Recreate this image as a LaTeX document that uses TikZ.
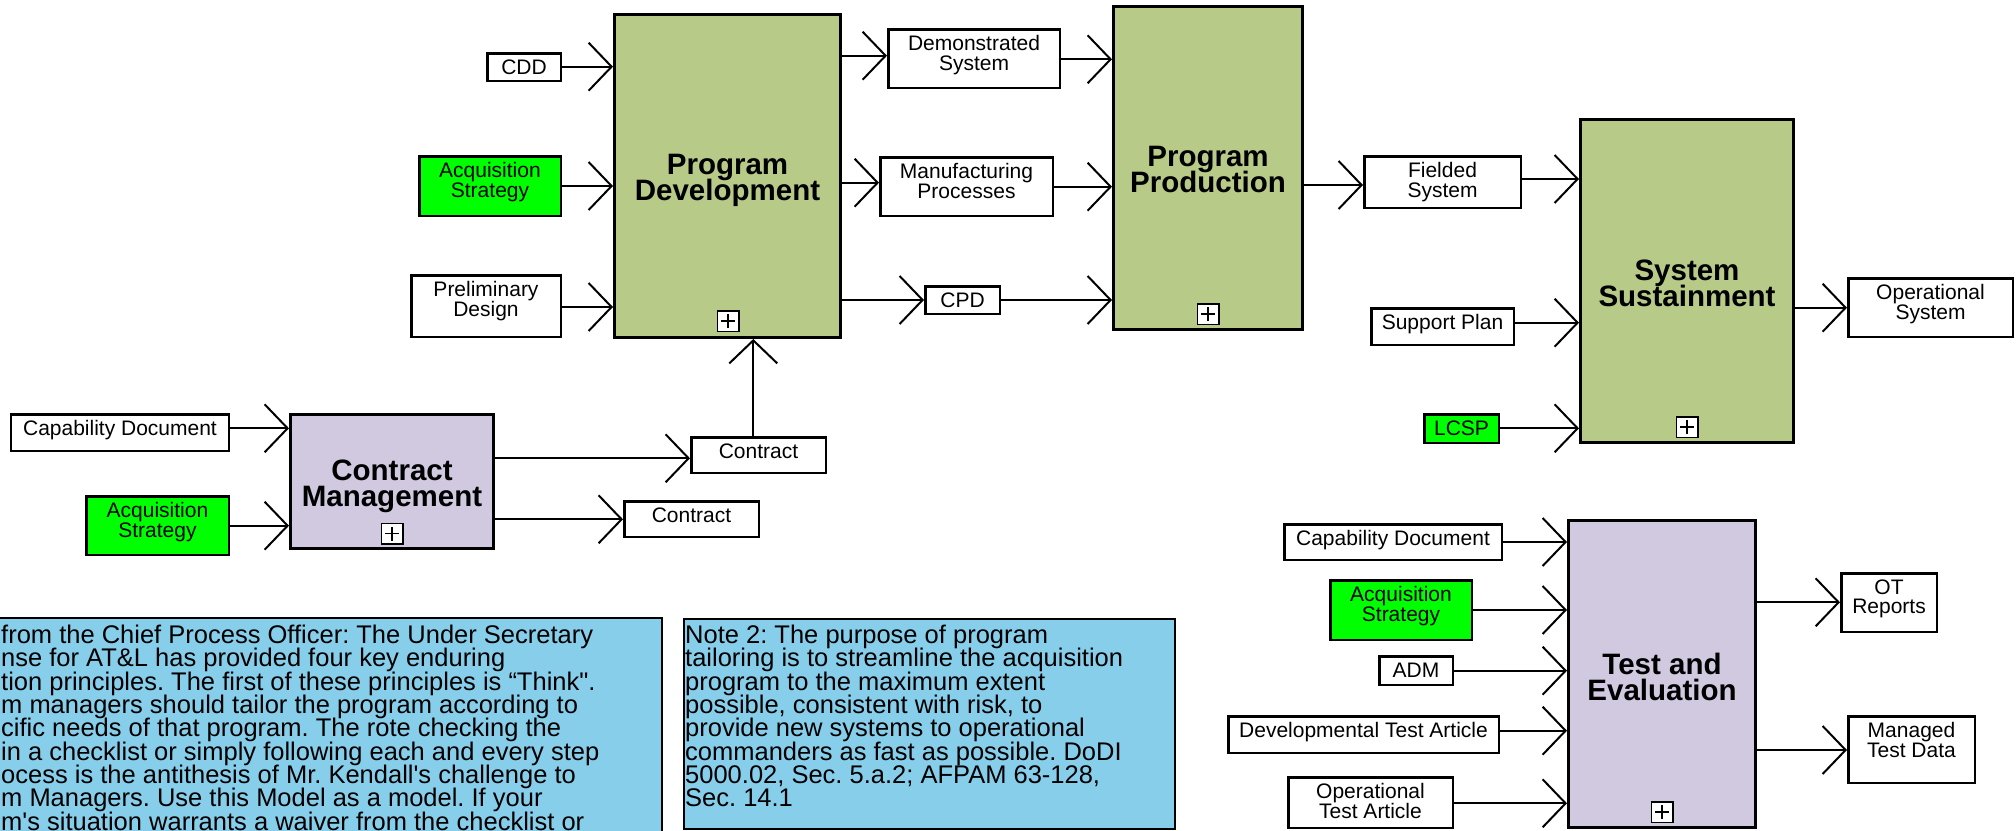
\documentclass[tikz,border=0pt]{standalone}
\usepackage{fontspec}
\setmainfont{Liberation Sans}
\usetikzlibrary{arrows.meta}
\frenchspacing
\definecolor{pdgreen}{RGB}{183,202,136}
\definecolor{lav}{RGB}{209,201,223}
\definecolor{brgreen}{RGB}{0,255,0}
\definecolor{notebl}{RGB}{135,206,235}
\newcommand\myfs{\fontsize{21bp}{19.5bp}\selectfont\lineskiplimit=-100pt\relax}
\newcommand\myfb{\fontsize{29.5bp}{26bp}\selectfont\bfseries\lineskiplimit=-100pt\relax}
\newcommand\myfn{\fontsize{25.5bp}{23.3bp}\selectfont\lineskiplimit=-100pt\relax}
\tikzset{
  mainbox/.style={draw, line width=3bp, inner sep=0pt},
  mtxt/.style={anchor=north, inner sep=0pt, align=center, font=\myfb},
  sbox/.style={draw, line width=2.5bp, fill=white, inner sep=0pt},
  gbox/.style={sbox, fill=brgreen},
  tl/.style={anchor=north, yshift=-7.5bp, inner sep=0pt, align=center, font=\myfs},
  arr/.style={line width=2bp, -{Straight Barb[length=23bp, width=48bp]}},
  plusbox/.style={draw, fill=white, line width=1.5bp, minimum width=21.5bp, minimum height=20.5bp, inner sep=0pt,
    path picture={
      \draw[line width=1.8bp] ([xshift=-7bp]path picture bounding box.center) -- ([xshift=7bp]path picture bounding box.center);
      \draw[line width=1.8bp] ([yshift=-7bp]path picture bounding box.center) -- ([yshift=7bp]path picture bounding box.center);}},
  note/.style={draw, line width=2bp, fill=notebl, inner sep=0pt, anchor=north west},
  ntxt/.style={anchor=north west, inner sep=0pt, align=left, font=\myfn},
}
\begin{document}
\begin{tikzpicture}[x=1bp, y=-1bp]
\useasboundingbox (0,0) rectangle (2016,831);
\clip (0,0) rectangle (2016,831);

% main activity boxes
\node[mainbox, fill=pdgreen, minimum width=226bp, minimum height=323bp] (pd) at (727.5,176) {};
\node[mainbox, fill=pdgreen, minimum width=189bp, minimum height=323bp] (pp) at (1208,168) {};
\node[mainbox, fill=pdgreen, minimum width=213bp, minimum height=323bp] (ss) at (1687,281) {};
\node[mainbox, fill=lav, minimum width=203bp, minimum height=134bp] (cm) at (392,481.5) {};
\node[mainbox, fill=lav, minimum width=187bp, minimum height=307bp] (te) at (1662,674) {};
\node[mtxt] (pdt) at ([yshift=21.5bp]pd.center) {Program\\Development};
\node[mtxt] (ppt) at ([yshift=21.5bp]pp.center) {Program\\Production};
\node[mtxt] (sst) at ([yshift=21.5bp]ss.center) {System\\Sustainment};
\node[mtxt] (cmt) at ([yshift=21.5bp]cm.center) {Contract\\Management};
\node[mtxt] (tet) at ([yshift=21.5bp]te.center) {Test and\\Evaluation};

\node[plusbox] (pdplus) at (728,321) {};
\node[plusbox] (ppplus) at (1208,314) {};
\node[plusbox] (ssplus) at (1687,427) {};
\node[plusbox] (cmplus) at (392,533.5) {};
\node[plusbox] (teplus) at (1662,812) {};

% small boxes
\node[sbox, minimum width=73.5bp, minimum height=27.5bp, label={[tl]north:CDD}] (cdd) at (524,67) {};
\node[gbox, minimum width=141.5bp, minimum height=59.5bp, label={[tl]north:Acquisition\\Strategy}] (acq1) at (490,186) {};
\node[sbox, minimum width=149.5bp, minimum height=61.5bp, label={[tl]north:Preliminary\\Design}] (prelim) at (486,306) {};
\node[sbox, minimum width=171.5bp, minimum height=58.5bp, label={[tl]north:Demonstrated\\System}] (ds) at (974,58.5) {};
\node[sbox, minimum width=172.5bp, minimum height=58.5bp, label={[tl]north:Manufacturing\\Processes}] (mp) at (966.5,186.5) {};
\node[sbox, minimum width=74.5bp, minimum height=27.5bp, label={[tl]north:CPD}] (cpd) at (962.5,300) {};
\node[sbox, minimum width=156.5bp, minimum height=51.5bp, label={[tl]north:Fielded\\System}] (fs) at (1442.5,182) {};
\node[sbox, minimum width=142.5bp, minimum height=36.5bp, label={[tl]north:Support Plan}] (sp) at (1442.5,326.5) {};
\node[gbox, minimum width=74.5bp, minimum height=28.5bp, label={[tl]north:LCSP}] (lcsp) at (1461.5,428.5) {};
\node[sbox, minimum width=164.5bp, minimum height=58.5bp, label={[tl]north:Operational\\System}] (os) at (1930.5,307.5) {};
\node[sbox, minimum width=217.5bp, minimum height=36.5bp, label={[tl]north:Capability Document}] (capL) at (120,432.5) {};
\node[gbox, minimum width=142.5bp, minimum height=58.5bp, label={[tl]north:Acquisition\\Strategy}] (acqL) at (157.5,525.5) {};
\node[sbox, minimum width=134.5bp, minimum height=35.5bp, label={[tl]north:Contract}] (conU) at (758.5,455) {};
\node[sbox, minimum width=134.5bp, minimum height=35.5bp, label={[tl]north:Contract}] (conL) at (691.5,519) {};
\node[sbox, minimum width=217.5bp, minimum height=35.5bp, label={[tl]north:Capability Document}] (capR) at (1393,542) {};
\node[gbox, minimum width=141.5bp, minimum height=59.5bp, label={[tl]north:Acquisition\\Strategy}] (acqR) at (1401,610) {};
\node[sbox, minimum width=73.5bp, minimum height=28.5bp, label={[tl]north:ADM}] (adm) at (1416,670.5) {};
\node[sbox, minimum width=270.5bp, minimum height=36.5bp, label={[tl]north:Developmental Test Article}] (dta) at (1363.5,734.5) {};
\node[sbox, minimum width=164.5bp, minimum height=50.5bp, label={[tl]north:Operational\\Test Article}] (ota) at (1370.5,802.5) {};
\node[sbox, minimum width=95.5bp, minimum height=58.5bp, label={[tl]north:OT\\Reports}] (otr) at (1889,602.5) {};
\node[sbox, minimum width=126.5bp, minimum height=66.5bp, label={[tl]north:Managed\\Test Data}] (mtd) at (1911.5,749.5) {};

% connectors
\draw[arr] (cdd.east |- 0,66.7) -- (pd.west |- 0,66.7);
\draw[arr] (acq1.east |- 0,186) -- (pd.west |- 0,186);
\draw[arr] (prelim.east |- 0,307) -- (pd.west |- 0,307);
\draw[arr] (pd.east |- 0,55.7) -- (ds.west |- 0,55.7);
\draw[arr] (pd.east |- 0,182.7) -- (mp.west |- 0,182.7);
\draw[arr] (pd.east |- 0,300) -- (cpd.west |- 0,300);
\draw[arr] (ds.east |- 0,59.3) -- (pp.west |- 0,59.3);
\draw[arr] (mp.east |- 0,186.7) -- (pp.west |- 0,186.7);
\draw[arr] (cpd.east |- 0,300) -- (pp.west |- 0,300);
\draw[arr] (pp.east |- 0,185) -- (fs.west |- 0,185);
\draw[arr] (fs.east |- 0,179) -- (ss.west |- 0,179);
\draw[arr] (sp.east |- 0,322.7) -- (ss.west |- 0,322.7);
\draw[arr] (lcsp.east |- 0,428.3) -- (ss.west |- 0,428.3);
\draw[arr] (ss.east |- 0,307.7) -- (os.west |- 0,307.7);
\draw[arr] (capL.east |- 0,428.3) -- (cm.west |- 0,428.3);
\draw[arr] (acqL.east |- 0,525.7) -- (cm.west |- 0,525.7);
\draw[arr] (cm.east |- 0,458.3) -- (conU.west |- 0,458.3);
\draw[arr] (cm.east |- 0,519.3) -- (conL.west |- 0,519.3);
\draw[arr] (conU.north -| 753.3,0) -- (pd.south -| 753.3,0);
\draw[arr] (capR.east |- 0,542) -- (te.west |- 0,542);
\draw[arr] (acqR.east |- 0,610) -- (te.west |- 0,610);
\draw[arr] (adm.east |- 0,670.7) -- (te.west |- 0,670.7);
\draw[arr] (dta.east |- 0,730.7) -- (te.west |- 0,730.7);
\draw[arr] (ota.east |- 0,803.3) -- (te.west |- 0,803.3);
\draw[arr] (te.east |- 0,602.3) -- (otr.west |- 0,602.3);
\draw[arr] (te.east |- 0,750) -- (mtd.west |- 0,750);

% notes
\node[note, minimum width=671bp, minimum height=240bp] (n1) at (-10,617) {};
\node[ntxt] (n1t) at (1,625) {from the Chief Process Officer: The Under Secretary\\
nse for AT\&L has provided four key enduring\\
tion principles. The first of these principles is “Think\textquotedbl.\\
m managers should tailor the program according to\\
cific needs of that program. The rote checking the\\
in a checklist or simply following each and every step\\
ocess is the antithesis of Mr. Kendall\textquotesingle s challenge to\\
m Managers. Use this Model as a model. If your\\
m\textquotesingle s situation warrants a waiver from the checklist or};
\node[note, minimum width=491bp, minimum height=210bp] (n2) at (683,618) {};
\node[ntxt] (n2t) at (685,625) {Note 2: The purpose of program\\
tailoring is to streamline the acquisition\\
program to the maximum extent\\
possible, consistent with risk, to\\
provide new systems to operational\\
commanders as fast as possible. DoDI\\
5000.02, Sec. 5.a.2; AFPAM 63-128,\\
Sec. 14.1};
\end{tikzpicture}
\end{document}
